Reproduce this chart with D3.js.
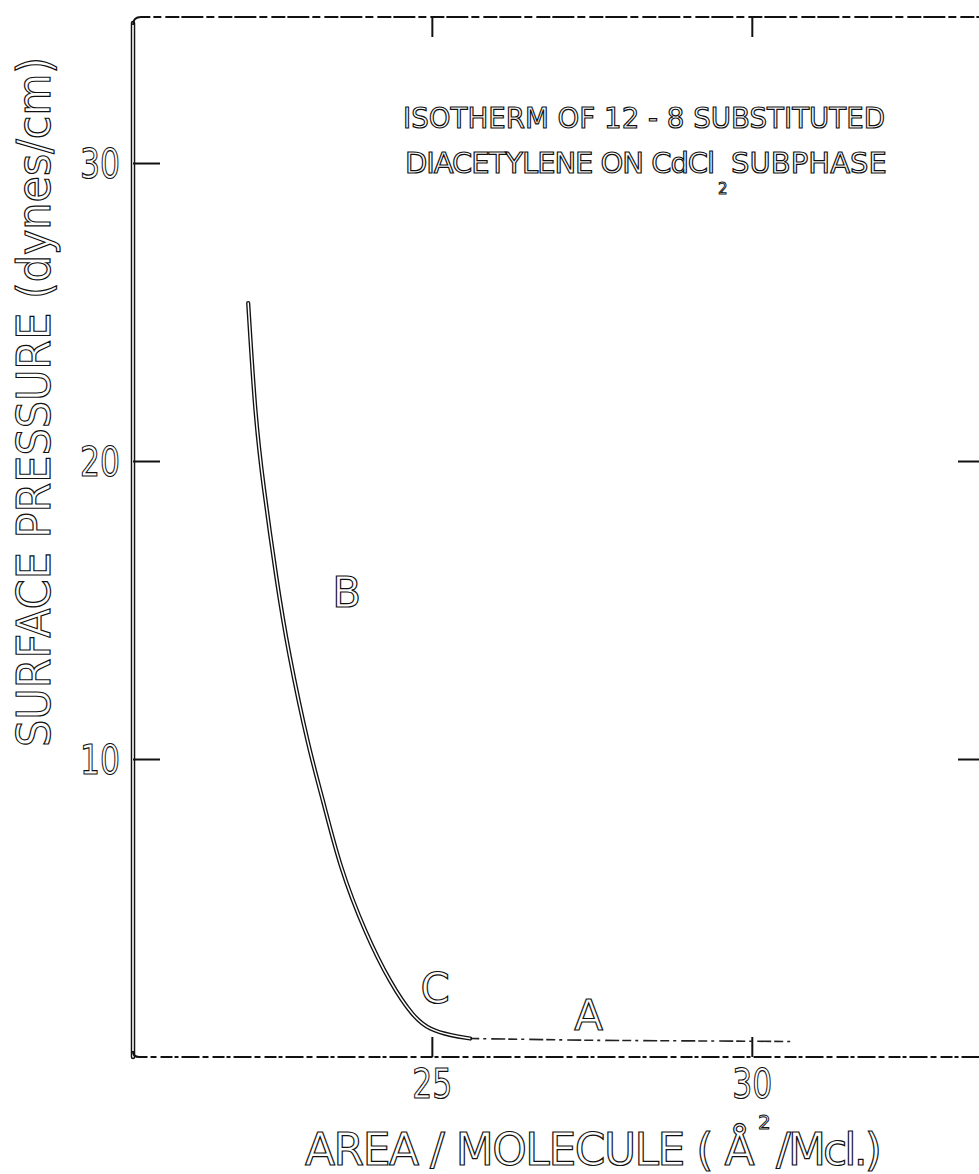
<!DOCTYPE html>
<html>
<head>
<meta charset="utf-8">
<script src="https://cdn.jsdelivr.net/npm/d3@7/dist/d3.min.js"></script>
<style>
  html, body { margin: 0; padding: 0; background: #fff; }
  svg { display: block; }
  .lbl { font-family: "DejaVu Sans", sans-serif; fill: #fff; stroke: #111; stroke-width: 1.2px; }
</style>
</head>
<body>
<script>
// ---- data ----
const areaSolid     = [22.13, 22.24, 22.36, 22.58, 22.75, 23.08, 23.30, 23.56, 23.96, 24.35, 24.71, 24.97, 25.30, 25.60];
const pressureSolid = [25.30, 21.50, 19.26, 15.90, 13.66, 10.30,  8.62,  6.38,  4.16,  2.48,  1.34,  0.91,  0.72,  0.62];
const areaDashed     = [25.60, 27.50, 30.65];
const pressureDashed = [0.62, 0.56, 0.52];
const xTicks = [25, 30];
const yTicks = [10, 20, 30];
const rightTicks = [10, 20];
const pointLabels = ["B", "C", "A"];
const pointLabelArea = [23.67, 25.05, 27.45];
const pointLabelPressure = [15.1, 1.8, 0.9];
const titleLines = ["ISOTHERM OF 12 - 8 SUBSTITUTED", "DIACETYLENE ON CdCl", "2", "SUBPHASE"];
const yTitle = "SURFACE  PRESSURE  (dynes/cm)";
const xTitleParts = ["AREA / MOLECULE ( Å", "2", "/Mcl.)"];

(function () {
// ---- layout ----
const W = 979, H = 1174;
const mL = 133, mR = 979, mT = 17, mB = 1057;

const x = d3.scaleLinear().domain([20.33, 33.55]).range([mL, mR]);
const y = d3.scaleLinear().domain([0, 34.9]).range([mB, mT]);

const svg = d3.select("body").append("svg").attr("width", W).attr("height", H);
svg.append("rect").attr("width", W).attr("height", H).attr("fill", "#fff");

// fit a text to a target width with letter-spacing (keeps real bbox in sync)
function fit(sel, target) {
  const txt = sel.text();
  const n = sel.node().getComputedTextLength();
  sel.attr("letter-spacing", ((target - n) / txt.length).toFixed(2));
  return sel;
}

// outlined (double-edged) stroke helper, mimicking the scanned drawing
function outlined(g, d, wOuter, wInner) {
  g.append("path").attr("d", d).attr("fill", "none").attr("stroke", "#111")
    .attr("stroke-width", wOuter).attr("stroke-linecap", "round").attr("stroke-linejoin", "round");
  g.append("path").attr("d", d).attr("fill", "none").attr("stroke", "#fff")
    .attr("stroke-width", wInner).attr("stroke-linecap", "round").attr("stroke-linejoin", "round");
}

const frame = svg.append("g");
// left axis line
outlined(frame, d3.line()([[x.range()[0], y.range()[0]], [x.range()[0], y.range()[1] + 6]]), 4.5, 1.6);
// top border with rounded corner
frame.append("path")
  .attr("d", `M${mL},${mT + 8} Q${mL},${mT} ${mL + 8},${mT} L${mR},${mT}`)
  .attr("fill", "none").attr("stroke", "#111").attr("stroke-width", 1.8)
  .attr("stroke-dasharray", "22,3,8,4,14,2");
// bottom axis line
frame.append("path")
  .attr("d", `M${mL},${mB - 6} Q${mL},${mB} ${mL + 6},${mB} L${mR},${mB}`)
  .attr("fill", "none").attr("stroke", "#111").attr("stroke-width", 2.2)
  .attr("stroke-dasharray", "18,3,6,4,12,2,4,3");

// axes (ticks + labels)
const yAxis = svg.append("g").attr("transform", `translate(${mL},0)`)
  .call(d3.axisLeft(y).tickValues(yTicks).tickSizeInner(-27).tickSizeOuter(0).tickPadding(13).tickFormat(d3.format("d")));
const xAxis = svg.append("g").attr("transform", `translate(0,${mB})`)
  .call(d3.axisBottom(x).tickValues(xTicks).tickSizeInner(-20).tickSizeOuter(0).tickPadding(13).tickFormat(d3.format("d")));
const topAxis = svg.append("g").attr("transform", `translate(0,${mT})`)
  .call(d3.axisTop(x).tickValues(xTicks).tickSizeInner(-20).tickSizeOuter(0).tickFormat(""));
const rightAxis = svg.append("g").attr("transform", `translate(${mR},0)`)
  .call(d3.axisRight(y).tickValues(rightTicks).tickSizeInner(-21).tickSizeOuter(0).tickFormat(""));

[yAxis, xAxis, topAxis, rightAxis].forEach(a => {
  a.attr("font-family", null).attr("font-size", null);
  a.select(".domain").remove();
  a.selectAll(".tick line").attr("stroke", "#111").attr("stroke-width", 2);
  a.selectAll(".tick text").attr("class", "lbl").attr("font-size", 40).attr("fill", null)
    .attr("textLength", 40).attr("lengthAdjust", "spacingAndGlyphs");
});
yAxis.selectAll(".tick text").attr("dy", "0.36em");

// curve
const line = d3.line().x(d => x(d[0])).y(d => y(d[1])).curve(d3.curveBasis);
outlined(svg.append("g"), line(d3.zip(areaSolid, pressureSolid)), 4.2, 1.5);
svg.append("path").attr("d", d3.line().x(d => x(d[0])).y(d => y(d[1]))(d3.zip(areaDashed, pressureDashed)))
  .attr("fill", "none").attr("stroke", "#222").attr("stroke-width", 1.6)
  .attr("stroke-dasharray", "9,4,3,5,14,3");

// point labels
svg.append("g").selectAll("text").data(pointLabels).join("text")
  .attr("class", "lbl").attr("font-size", 42).attr("text-anchor", "middle")
  .attr("x", (d, i) => x(pointLabelArea[i])).attr("y", (d, i) => y(pointLabelPressure[i]))
  .text(d => d);

// title
svg.append("text").attr("class", "lbl").attr("font-size", 29)
  .attr("x", 403).attr("y", 128).attr("textLength", 482).attr("lengthAdjust", "spacingAndGlyphs")
  .text(titleLines[0]);
fit(svg.append("text").attr("class", "lbl").attr("font-size", 29)
  .attr("x", 405).attr("y", 173).text(titleLines[1]), 309);
svg.append("text").attr("class", "lbl").attr("font-size", 15).style("stroke-width", "0.9px")
  .attr("x", 718).attr("y", 194).text(titleLines[2]);
fit(svg.append("text").attr("class", "lbl").attr("font-size", 29)
  .attr("x", 731).attr("y", 173).text(titleLines[3]), 156);

// y title
svg.append("text").attr("class", "lbl").attr("font-size", 46)
  .attr("transform", "translate(50,402) rotate(-90)").attr("text-anchor", "middle")
  .attr("textLength", 690).attr("lengthAdjust", "spacingAndGlyphs")
  .text(yTitle);

// x title
fit(svg.append("text").attr("class", "lbl").attr("font-size", 44)
  .attr("x", 305).attr("y", 1165).text(xTitleParts[0]), 448);
svg.append("text").attr("class", "lbl").attr("font-size", 20).style("stroke-width", "1px")
  .attr("x", 758).attr("y", 1129).text(xTitleParts[1]);
fit(svg.append("text").attr("class", "lbl").attr("font-size", 44)
  .attr("x", 776).attr("y", 1165).text(xTitleParts[2]), 103);
})();
</script>
</body>
</html>
